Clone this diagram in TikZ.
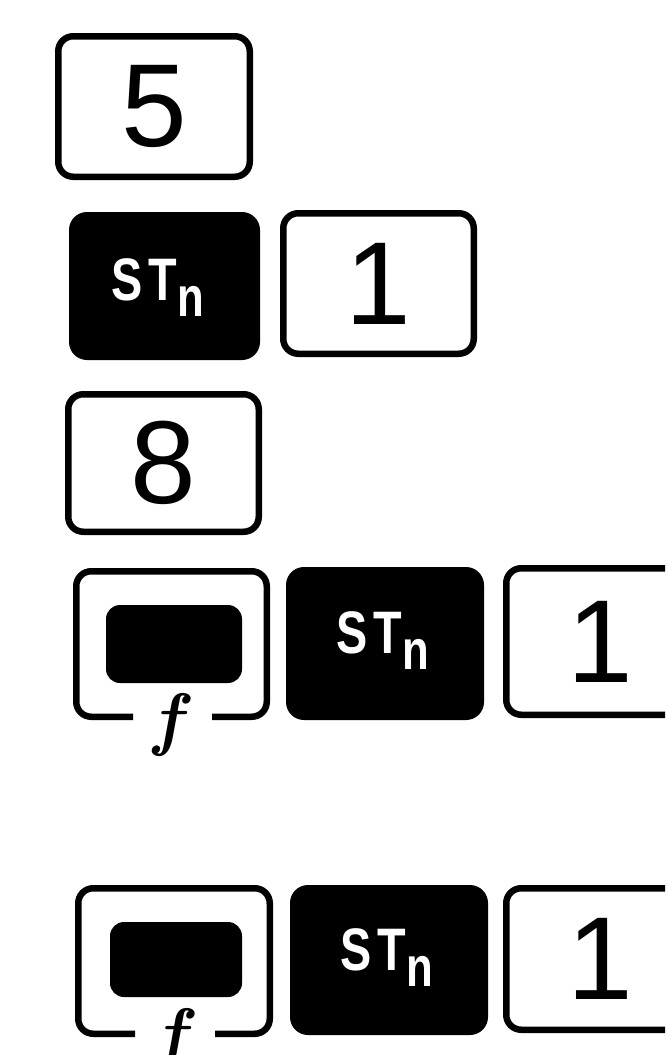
\documentclass[tikz,border=0pt]{standalone}
\usepackage{fontspec}
\setmainfont{Liberation Sans}
\newfontfamily\lmfont{Latin Modern Roman}
\usepackage{graphicx}
\newcommand\stnlabel{\scalebox{0.78}[1]{\fontsize{60}{60}\selectfont\bfseries S\kern8pt T\raisebox{-16pt}{\fontsize{56}{56}\selectfont n}}}
\begin{document}
\begin{tikzpicture}[x=1pt,y=-1pt,
  keyline/.style={draw=black,line width=6.5pt,rounded corners=15pt},
  wkey/.style={keyline,fill=white,inner sep=0pt,font=\fontsize{118}{118}\selectfont},
  bkey/.style={fill=black,rounded corners=18pt,inner sep=0pt},
  inkey/.style={fill=black,rounded corners=14pt,inner sep=0pt},
  frame/.style={inner sep=0pt,outer sep=0pt},
  stlabel/.style={text=white,inner sep=0pt,anchor=base west},
  flabel/.style={inner sep=0pt,font=\fontsize{70}{70}\selectfont\lmfont\bfseries\itshape}]
\useasboundingbox (0,0) rectangle (665,1055);
\clip (0,0) rectangle (665,1055);
% row 1
\node[wkey,minimum width=191.5pt,minimum height=140.5pt] (k5) at (154,106.5) {5};
% row 2
\node[bkey,minimum width=191pt,minimum height=148pt] (st1) at (164.5,286) {};
\node[stlabel] (st1t) at (111,300) {\stnlabel};
\node[wkey,minimum width=190.5pt,minimum height=140.5pt] (k1a) at (378.5,283.5) {1};
% row 3
\node[wkey,minimum width=190.5pt,minimum height=137.5pt] (k8) at (163.5,463) {8};
% row 4
\node[frame,minimum width=190.5pt,minimum height=145.5pt] (fk1) at (171.5,644) {};
\draw[keyline] ([xshift=-38.5pt]fk1.south) -| (fk1.north west) -| (fk1.south east) -- ([xshift=40.5pt]fk1.south);
\node[inkey,minimum width=136pt,minimum height=78pt] (fk1in) at (174,644) {};
\node[flabel] (f1) at (167,725) {f};
\node[bkey,minimum width=198pt,minimum height=153pt] (st2) at (385,643.5) {};
\node[stlabel] (st2t) at (336,653) {\stnlabel};
\node[wkey,minimum width=188.5pt,minimum height=146.5pt] (k1b) at (600.5,641.5) {1};
% row 5
\node[frame,minimum width=191.5pt,minimum height=145.5pt] (fk2) at (174,961) {};
\draw[keyline] ([xshift=-39pt]fk2.south) -| (fk2.north west) -| (fk2.south east) -- ([xshift=41pt]fk2.south);
\node[inkey,minimum width=132pt,minimum height=75pt] (fk2in) at (176,959.5) {};
\node[flabel] (f2) at (171,1040) {f};
\node[bkey,minimum width=198pt,minimum height=150pt] (st3) at (389,960) {};
\node[stlabel] (st3t) at (340,970) {\stnlabel};
\node[wkey,minimum width=188.5pt,minimum height=141.5pt] (k1c) at (600.5,959) {1};
\end{tikzpicture}
\end{document}
